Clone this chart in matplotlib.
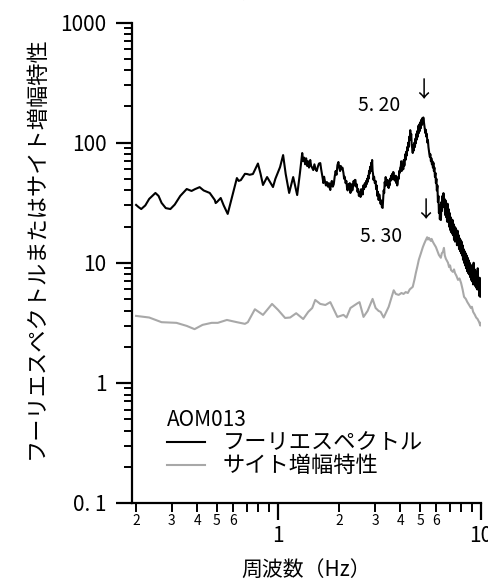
import matplotlib.pyplot as plt
from matplotlib.ticker import NullFormatter

plt.rcParams['font.family'] = ['Noto Sans CJK JP', 'DejaVu Sans']

# フーリエスペクトル (black)
fourier_freq = [
    0.200, 0.206, 0.212, 0.222, 0.232, 0.249, 0.258, 0.267, 0.280, 0.295,
    0.310, 0.330, 0.355, 0.375, 0.390, 0.411, 0.430, 0.461, 0.488, 0.493,
    0.500, 0.522, 0.540, 0.565, 0.590, 0.627, 0.640, 0.656, 0.687, 0.703,
    0.725, 0.752, 0.796, 0.820, 0.843, 0.883, 0.944, 0.970, 1.023, 1.059,
    1.090, 1.134, 1.187, 1.242, 1.280,
    1.315, 1.330, 1.345, 1.360, 1.375, 1.390, 1.405, 1.420, 1.440, 1.455,
    1.470, 1.490, 1.510, 1.530, 1.550, 1.570, 1.590, 1.614, 1.630, 1.645,
    1.660, 1.670, 1.685, 1.700, 1.720, 1.740, 1.760, 1.780, 1.795, 1.808,
    1.825, 1.840, 1.860, 1.880, 1.900, 1.920, 1.940, 1.960, 1.982, 2.000,
    2.020, 2.035, 2.050, 2.075, 2.099, 2.115, 2.130, 2.150, 2.170, 2.185,
    2.200, 2.220, 2.240, 2.255, 2.271, 2.285, 2.300, 2.320, 2.340, 2.355,
    2.370, 2.390, 2.405, 2.420, 2.440, 2.460, 2.480, 2.500, 2.520, 2.547,
    2.565, 2.580, 2.595, 2.610, 2.630, 2.650, 2.675, 2.697, 2.715, 2.730,
    2.745, 2.760, 2.775, 2.791, 2.805, 2.820, 2.840, 2.860, 2.875, 2.890,
    2.905, 2.920, 2.935, 2.950, 2.970, 2.995, 3.022, 3.040, 3.060, 3.080,
    3.100, 3.126, 3.150, 3.170, 3.195, 3.220, 3.245, 3.273, 3.290, 3.310,
    3.330, 3.350, 3.370, 3.387, 3.405, 3.420, 3.440, 3.460, 3.480, 3.505,
    3.520, 3.540, 3.560, 3.580, 3.600, 3.620, 3.645, 3.670, 3.690, 3.710,
    3.730, 3.750, 3.775, 3.800, 3.820, 3.840, 3.860, 3.881, 3.905, 3.930,
    3.950, 3.970, 3.995,
    4.018, 4.040, 4.060, 4.085, 4.110, 4.135, 4.159, 4.180, 4.200, 4.225,
    4.250, 4.275, 4.300, 4.325, 4.353, 4.375, 4.400, 4.425, 4.450, 4.475,
    4.499, 4.525, 4.550, 4.575, 4.603, 4.630, 4.660, 4.690, 4.720, 4.745,
    4.766, 4.790, 4.820, 4.850, 4.877, 4.905, 4.932, 4.960, 4.990, 5.020,
    5.047, 5.075, 5.100, 5.130, 5.163, 5.190, 5.220, 5.250, 5.280, 5.310,
    5.343, 5.370, 5.400, 5.435, 5.467, 5.500, 5.530, 5.560, 5.590, 5.620,
    5.655, 5.690, 5.720, 5.750, 5.786, 5.820, 5.851, 5.885, 5.920, 5.955,
    5.986, 6.020, 6.050, 6.090, 6.124, 6.160, 6.194, 6.230, 6.260, 6.300,
    6.337, 6.370, 6.410, 6.445, 6.483, 6.520, 6.556, 6.600, 6.640, 6.680,
    6.720, 6.755, 6.790, 6.830, 6.866, 6.910, 6.950, 6.990, 7.030, 7.065,
    7.103, 7.145, 7.190, 7.230, 7.267, 7.310, 7.350, 7.390, 7.433, 7.480,
    7.520, 7.560, 7.600, 7.645, 7.691, 7.735, 7.780, 7.825, 7.870, 7.915,
    7.960, 8.005, 8.050, 8.095, 8.140, 8.190, 8.236, 8.280, 8.330, 8.380,
    8.430, 8.480, 8.530, 8.580, 8.625, 8.670, 8.720, 8.770, 8.820, 8.870,
    8.920, 8.970, 9.020, 9.075, 9.130, 9.180, 9.235, 9.290, 9.340, 9.390,
    9.446, 9.500, 9.560, 9.615, 9.670, 9.720, 9.774, 9.830, 9.890, 9.945,
    10.00,
]
fourier_amp = [
    30.3, 29.0, 28.0, 30.0, 34.0, 38.1, 36.0, 31.5, 28.5, 28.0,
    30.5, 36.0, 41.1, 39.6, 41.0, 42.6, 40.0, 38.1, 33.3, 31.4,
    32.0, 34.6, 30.0, 25.5, 34.0, 50.7, 48.0, 48.8, 55.0, 54.8,
    54.0, 54.8, 67.0, 55.0, 44.4, 51.7, 42.7, 50.0, 62.6, 78.8,
    55.0, 38.1, 51.7, 36.6, 55.0,
    81.9, 70.0, 75.0, 66.0, 74.0, 64.0, 70.0, 62.0, 71.7, 64.0,
    62.0, 59.1, 66.0, 60.0, 58.0, 63.0, 67.0, 67.6, 60.0, 55.0,
    50.0, 46.1, 52.0, 48.0, 44.0, 47.0, 43.0, 46.0, 42.0, 40.3,
    46.0, 48.0, 43.0, 45.0, 52.0, 58.0, 54.0, 65.0, 69.0, 62.0,
    58.0, 64.0, 60.0, 62.0, 55.8, 50.0, 52.0, 46.0, 48.0, 42.0,
    40.0, 45.0, 42.0, 46.0, 38.1, 42.0, 45.0, 40.0, 43.0, 48.0,
    44.0, 49.0, 48.8, 43.0, 45.0, 39.0, 41.0, 36.0, 39.0, 35.3,
    41.0, 38.0, 40.0, 37.0, 44.0, 41.0, 46.0, 42.7, 48.0, 45.0,
    50.0, 47.0, 53.0, 50.0, 58.0, 55.0, 63.0, 58.0, 68.0, 62.0,
    71.7, 58.0, 55.0, 49.0, 52.0, 46.0, 48.0, 41.0, 44.0, 36.0,
    39.0, 33.3, 37.0, 35.0, 31.0, 33.0, 29.0, 28.6, 34.0, 40.0,
    38.0, 47.0, 44.0, 51.7, 45.0, 48.0, 44.0, 49.0, 43.0, 41.9,
    46.0, 44.0, 50.0, 48.0, 53.0, 49.0, 55.0, 52.0, 57.0, 55.8,
    49.0, 52.0, 48.0, 53.0, 46.0, 49.0, 44.0, 46.1, 52.0, 50.0,
    58.0, 56.0, 62.0,
    62.6, 70.0, 58.0, 64.0, 66.0, 60.0, 71.7, 64.0, 66.0, 80.0,
    72.0, 84.0, 78.0, 92.0, 86.0, 100.0, 92.0, 112.0, 105.0, 127.0,
    110.0, 118.0, 96.0, 90.0, 82.0, 95.0, 86.0, 100.0, 92.0, 108.0,
    99.0, 118.0, 106.0, 125.0, 112.0, 138.0, 120.0, 142.0, 125.0, 148.0,
    132.0, 155.0, 140.0, 160.0, 145.0, 162.0, 150.0, 140.0, 130.0, 120.0,
    128.0, 112.0, 118.0, 100.0, 105.0, 92.0, 85.0, 80.0, 76.0, 80.0,
    70.0, 74.0, 66.0, 70.0, 62.0, 68.0, 58.0, 62.0, 52.0, 56.0,
    46.0, 50.0, 40.0, 44.0, 32.0, 36.0, 26.0, 30.0, 23.0, 28.0,
    22.7, 32.0, 27.0, 36.0, 29.0, 38.0, 30.0, 34.0, 25.0, 33.0,
    24.0, 30.0, 22.0, 31.0, 22.0, 28.0, 20.0, 26.0, 18.8, 24.0,
    18.0, 23.0, 17.5, 22.7, 17.0, 21.0, 15.5, 20.0, 15.0, 19.5,
    15.5, 18.0, 14.0, 18.5, 14.0, 17.0, 13.0, 16.0, 12.5, 15.5,
    12.0, 15.0, 11.5, 14.0, 10.6, 13.0, 10.0, 12.5, 9.5, 12.0,
    9.0, 11.5, 8.5, 11.0, 8.2, 10.5, 8.0, 10.0, 7.6, 9.5,
    7.2, 9.5, 7.0, 9.0, 6.6, 10.0, 7.0, 8.8, 6.4, 8.5,
    6.2, 8.0, 6.0, 9.0, 6.0, 7.5, 5.3, 7.5, 5.2, 6.5,
    5.6,
]

# サイト増幅特性 (gray)
site_freq = [
    0.200, 0.232, 0.267, 0.316, 0.355, 0.388, 0.425, 0.471, 0.505, 0.560,
    0.627, 0.687, 0.710, 0.769, 0.843, 0.934, 1.000, 1.083, 1.147, 1.228,
    1.330, 1.408, 1.473, 1.524, 1.614, 1.710, 1.808, 1.959, 2.099, 2.172,
    2.271, 2.461, 2.518, 2.634, 2.759, 2.920, 3.022, 3.126, 3.199, 3.311,
    3.505, 3.710, 3.800, 3.926, 4.050, 4.150, 4.250, 4.353, 4.450, 4.603,
    4.700, 4.766, 4.850, 4.932, 5.050, 5.163, 5.250, 5.343, 5.420, 5.470,
    5.530, 5.650, 5.700, 5.786, 5.880, 5.986, 6.090, 6.194, 6.330, 6.400,
    6.483, 6.556, 6.620, 6.700, 6.866, 6.950, 7.030, 7.103, 7.250, 7.350,
    7.433, 7.550, 7.691, 7.820, 7.960, 8.100, 8.236, 8.400, 8.550, 8.724,
    8.900, 9.000, 9.130, 9.300, 9.446, 9.600, 9.774, 9.900, 10.00,
]
site_amp = [
    3.61, 3.50, 3.20, 3.16, 2.98, 2.80, 3.04, 3.16, 3.16, 3.34,
    3.20, 3.10, 3.20, 4.10, 3.68, 4.54, 4.05, 3.47, 3.50, 3.80,
    3.40, 3.90, 4.20, 4.90, 4.54, 4.45, 4.70, 3.54, 3.68, 3.50,
    4.20, 4.60, 4.70, 3.54, 3.97, 5.00, 4.20, 3.97, 3.90, 3.50,
    4.30, 5.90, 5.50, 5.40, 5.60, 5.50, 5.70, 5.60, 6.00, 6.30,
    7.30, 8.20, 9.30, 10.6, 12.0, 13.5, 14.5, 15.5, 16.3, 15.6,
    16.1, 15.2, 15.8, 14.9, 14.2, 13.5, 12.5, 11.6, 11.0, 12.0,
    12.3, 13.3, 11.5, 10.8, 10.0, 9.20, 9.50, 8.70, 8.40, 8.80,
    8.20, 7.80, 7.20, 7.40, 6.80, 6.00, 5.20, 5.00, 4.70, 4.45,
    4.20, 4.30, 3.90, 3.70, 3.50, 3.40, 3.20, 3.00, 3.16,
]

peak_fourier = 5.20
peak_site = 5.30

y_ticks = [0.1, 1, 10, 100, 1000]
y_labels = ['0. 1', '1', '10', '100', '1000']
x_major = [1, 10]
x_major_labels = ['1', '10']
x_minor = [0.2, 0.3, 0.4, 0.5, 0.6, 0.7, 0.8, 0.9,
           2, 3, 4, 5, 6, 7, 8, 9]
x_minor_labels = ['2', '3', '4', '5', '6', '', '', '',
                  '2', '3', '4', '5', '6', '', '', '']

fig = plt.figure(figsize=(4.89, 5.88), dpi=100)
ax = fig.add_axes([0.270, 0.1446, 0.714, 0.8171])

ax.plot(fourier_freq, fourier_amp, color='black', lw=1.5, label='フーリエスペクトル')
ax.plot(site_freq, site_amp, color='#a8a8a8', lw=1.5, label='サイト増幅特性')

ax.set_xscale('log')
ax.set_yscale('log')
ax.set_xlim(0.191, 10)
ax.set_ylim(0.1, 1000)

ax.set_yticks(y_ticks, labels=y_labels)
ax.yaxis.set_minor_formatter(NullFormatter())
ax.set_xticks(x_major, labels=x_major_labels)
ax.set_xticks(x_minor, labels=x_minor_labels, minor=True)

for s in ['top', 'right']:
    ax.spines[s].set_visible(False)
for s in ['left', 'bottom']:
    ax.spines[s].set_linewidth(1.6)

ax.tick_params(axis='y', which='major', direction='out', length=11.5, width=1.6,
               labelsize=15, pad=7)
ax.tick_params(axis='y', which='minor', direction='out', length=6, width=1.4)
ax.tick_params(axis='x', which='major', direction='out', length=12, width=1.6,
               labelsize=15, pad=4)
ax.tick_params(axis='x', which='minor', direction='out', length=6.5, width=1.4,
               labelsize=10, pad=1.5)

# peak markers
ax.text(peak_fourier, 270, '↓', ha='center', va='center', fontsize=16)
ax.text(3.13, 205, f'{peak_fourier:.2f}'.replace('.', '. '), ha='center', va='center', fontsize=14)
ax.text(peak_site, 27, '↓', ha='center', va='center', fontsize=16)
ax.text(3.2, 16.4, f'{peak_site:.2f}'.replace('.', '. '), ha='center', va='center', fontsize=14)

leg = ax.legend(title='AOM013', loc='upper left', bbox_to_anchor=(0.10, 0.195),
                frameon=False, fontsize=16, title_fontsize=15, handlelength=1.7,
                handletextpad=0.8, labelspacing=0.0, borderpad=0, borderaxespad=0,
                alignment='left')

fig.text(0.626, 1 - 570 / 588, '周波数（Hz）', ha='center', va='center', fontsize=15)
fig.text(0.626, 1 - 3 / 588, '周波数（Hz）', ha='center', va='bottom', fontsize=15)
fig.text(36 / 489, 1 - 248 / 588, 'フーリエスペクトルまたはサイト増幅特性',
         rotation=90, ha='center', va='center', fontsize=16)

fig.savefig('out.png', dpi=100)
